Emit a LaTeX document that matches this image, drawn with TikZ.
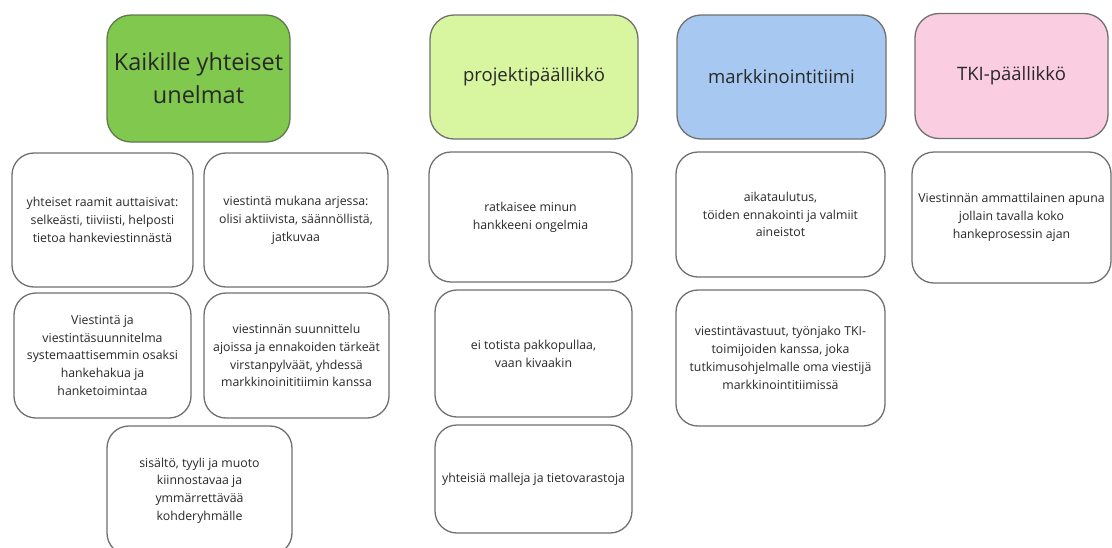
\documentclass[tikz,border=0pt]{standalone}
\usepackage{fontspec}
\setmainfont{Open Sans}
\definecolor{hgreen}{RGB}{128,201,78}
\definecolor{hlime}{RGB}{216,245,160}
\definecolor{hblue}{RGB}{167,201,241}
\definecolor{hpink}{RGB}{251,205,224}
\definecolor{edge}{RGB}{112,112,112}
\definecolor{greenedge}{RGB}{96,122,78}
\definecolor{ink}{RGB}{40,40,40}
\tikzset{
  card/.style={draw=edge, line width=1.3pt, rounded corners=22pt, fill=white,
    align=center, text=ink, inner sep=2pt,
    font=\fontsize{12.3}{17.8}\selectfont},
  head/.style={draw=edge, line width=1.3pt, rounded corners=24pt,
    align=center, text=ink, inner sep=2pt,
    font=\fontsize{18.5}{24}\selectfont},
}
\newcommand{\boxat}[6]{%
  % #1 name, #2 style, #3 cx, #4 cy, #5 w, #6 h
  \node[#2, minimum width=#5pt, minimum height=#6pt] (#1) at (#3,-#4)}
\begin{document}
\begin{tikzpicture}[x=1pt,y=1pt]
\useasboundingbox (0,0) rectangle (1112,-547);

% column headers
\boxat{hall}{head, fill=hgreen, draw=greenedge, inner sep=0pt,
  font=\fontsize{23.5}{33}\selectfont}{198.5}{78.5}{183}{127}
  {Kaikille yhteiset\\unelmat};
\boxat{hpm}{head, fill=hlime}{534}{77}{208}{124}{projektipäällikkö};
\boxat{hmt}{head, fill=hblue}{781.5}{77}{209}{124}{markkinointitiimi};
\boxat{htki}{head, fill=hpink}{1011.5}{76}{193}{125}{TKI-päällikkö};

% shared dreams
\boxat{a1}{card}{102.5}{220}{181}{134}
  {yhteiset raamit auttaisivat:\\selkeästi, tiiviisti, helposti\\tietoa hankeviestinnästä};
\boxat{a2}{card}{296}{220}{184}{134}
  {viestintä mukana arjessa:\\olisi aktiivista, säännöllistä,\\jatkuvaa};
\boxat{a3}{card}{102.5}{355.5}{177}{125}
  {Viestintä ja\\viestintäsuunnitelma\\systemaattisemmin osaksi\\hankehakua ja\\hanketoimintaa};
\boxat{a4}{card}{296.5}{355.5}{185}{125}
  {viestinnän suunnittelu\\ajoissa ja ennakoiden tärkeät\\virstanpylväät, yhdessä\\markkinoinititiimin kanssa};
\boxat{a5}{card}{199.5}{490.5}{185}{129}
  {sisältö, tyyli ja muoto\\kiinnostavaa ja\\ymmärrettävää\\kohderyhmälle};

% project manager
\boxat{b1}{card}{530.5}{217}{203}{130}
  {ratkaisee minun\\hankkeeni ongelmia};
\boxat{b2}{card}{533.5}{353.5}{197}{127}
  {ei totista pakkopullaa,\\vaan kivaakin};
\boxat{b3}{card}{533.5}{479}{197}{108}
  {yhteisiä malleja ja tietovarastoja};

% marketing team
\boxat{c1}{card}{780.5}{214.5}{209}{125}
  {aikataulutus,\\töiden ennakointi ja valmiit\\aineistot};
\boxat{c2}{card}{780.5}{358}{209}{136}
  {viestintävastuut, työnjako TKI-\\toimijoiden kanssa, joka\\tutkimusohjelmalle oma viestijä\\markkinointitiimissä};

% RDI manager
\boxat{d1}{card}{1011.5}{217.5}{199}{131}
  {Viestinnän ammattilainen apuna\\jollain tavalla koko\\hankeprosessin ajan};
\end{tikzpicture}
\end{document}
